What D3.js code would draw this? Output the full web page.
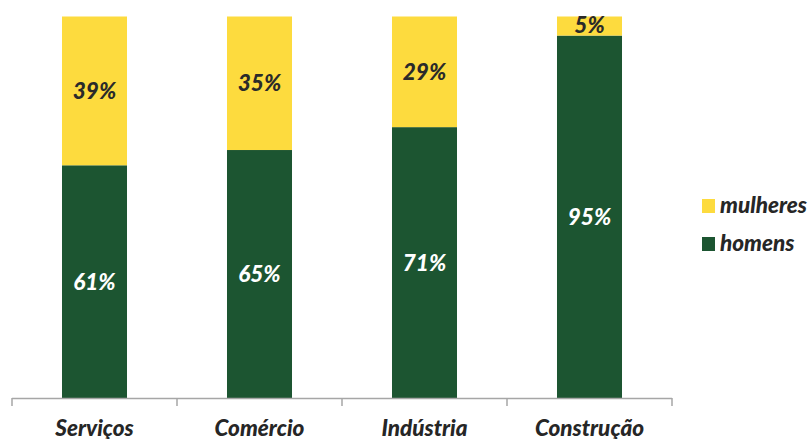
<!DOCTYPE html>
<html>
<head>
<meta charset="utf-8">
<script src="https://cdn.jsdelivr.net/npm/d3@7"></script>
<style>
  html, body { margin: 0; padding: 0; background: #fff; }
  svg { display: block; }
  text { font-family: Lato, "Open Sans", sans-serif; font-weight: 900; font-style: italic; }
</style>
</head>
<body>
<svg id="chart" width="810" height="439"></svg>
<script>
// Share of workers by sector and sex (%)
const categories = ["Serviços", "Comércio", "Indústria", "Construção"];
const homens   = [61, 65, 71, 95];
const mulheres = [39, 35, 29, 5];
const seriesNames = ["homens", "mulheres"];
const seriesColors = { homens: "#1c5531", mulheres: "#fddb3e" };
const legendOrder = ["mulheres", "homens"];

const svg = d3.select("#chart");
const margin = { left: 12, right: 138, top: 16.5, bottom: 41 };
const W = 810, H = 439;
const fontSize = 22.5;

const x = d3.scaleBand()
  .domain(categories)
  .range([margin.left, W - margin.right])
  .paddingInner(0.606)
  .paddingOuter(0.303);

const y = d3.scaleLinear()
  .domain([0, 100])
  .range([H - margin.bottom, margin.top]);

const rows = categories.map((c, i) => ({ category: c, homens: homens[i], mulheres: mulheres[i] }));
const stacked = d3.stack().keys(seriesNames)(rows);

// Bars
const layers = svg.append("g").selectAll("g")
  .data(stacked)
  .join("g")
  .attr("fill", d => seriesColors[d.key]);

layers.selectAll("rect")
  .data(d => d)
  .join("rect")
  .attr("x", d => x(d.data.category))
  .attr("width", x.bandwidth())
  .attr("y", d => y(d[1]))
  .attr("height", d => y(d[0]) - y(d[1]));

// Value labels centred in each segment
layers.each(function (layer) {
  d3.select(this).selectAll("text")
    .data(layer)
    .join("text")
    .attr("x", d => x(d.data.category) + x.bandwidth() / 2)
    .attr("y", d => {
      const top = y(d[1]), bottom = y(d[0]);
      return layer.key === "mulheres" && (d[1] - d[0]) < 8 ? top + 16 : (top + bottom) / 2 + 8;
    })
    .attr("text-anchor", "middle")
    .attr("font-size", fontSize)
    .attr("fill", layer.key === "homens" ? "#ffffff" : "#2a2a2a")
    .text(d => (d[1] - d[0]) + "%");
});

// Category axis line
const axisG = svg.append("g")
  .attr("transform", `translate(0,${H - margin.bottom})`);
axisG.append("line")
  .attr("x1", margin.left).attr("x2", W - margin.right)
  .attr("y1", 0.5).attr("y2", 0.5)
  .attr("stroke", "#a6a6a6").attr("stroke-width", 1.5);

// Boundary ticks between bands
const step = x.step();
const boundaries = d3.range(categories.length + 1).map(i => margin.left + i * step);
axisG.selectAll("line.tick-b")
  .data(boundaries)
  .join("line")
  .attr("class", "tick-b")
  .attr("x1", d => d).attr("x2", d => d)
  .attr("y1", 0).attr("y2", 8)
  .attr("stroke", "#a6a6a6").attr("stroke-width", 1.5);

axisG.selectAll("text.cat")
  .data(categories)
  .join("text")
  .attr("class", "cat")
  .attr("x", d => x(d) + x.bandwidth() / 2)
  .attr("y", 38)
  .attr("text-anchor", "middle")
  .attr("font-size", fontSize)
  .attr("fill", "#262626")
  .text(d => d);

// Legend
const legend = svg.append("g").attr("transform", "translate(702,199)");
const li = legend.selectAll("g")
  .data(legendOrder)
  .join("g")
  .attr("transform", (d, i) => `translate(0,${i * 38})`);
li.append("rect")
  .attr("width", 13).attr("height", 14)
  .attr("fill", d => seriesColors[d]);
li.append("text")
  .attr("x", 18).attr("y", 14)
  .attr("font-size", fontSize)
  .attr("fill", "#262626")
  .text(d => d);
</script>
</body>
</html>
